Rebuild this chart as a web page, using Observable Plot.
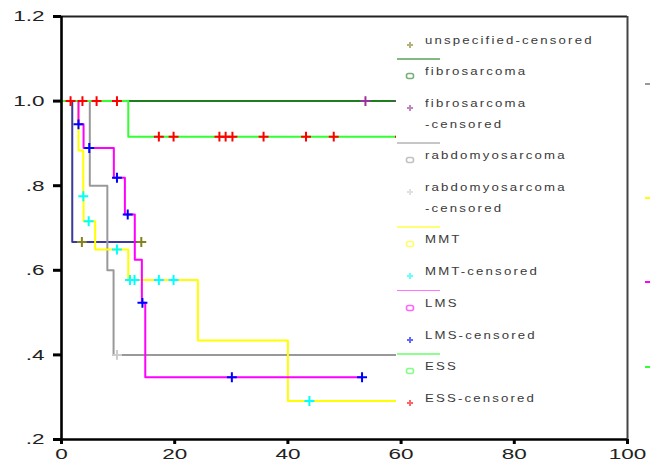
<!DOCTYPE html>
<html><head><meta charset="utf-8">
<script src="https://cdn.jsdelivr.net/npm/d3@7"></script>
<script src="https://cdn.jsdelivr.net/npm/@observablehq/plot@0.6"></script>
<style>
body{margin:0;background:#fff;}
#wrap{position:relative;width:655px;height:461px;overflow:hidden;font-family:"Liberation Sans",Arial,sans-serif;}
#legend{position:absolute;left:396px;top:18px;width:229px;height:419px;background:#fff;}
.lg-text{position:absolute;left:29px;font-size:11px;letter-spacing:1.8px;color:#3a3a3a;line-height:11px;white-space:nowrap;transform:scaleX(1.2);transform-origin:0 50%;}
.lg-line{position:absolute;left:1px;width:43px;height:1.5px;opacity:0.55;}
.lg-mark{position:absolute;left:9px;width:10px;height:10px;opacity:0.6;}
.cut{position:absolute;left:645px;width:5px;height:2px;}
</style></head><body><div id="wrap"></div>
<script>
// ---- data ----
const groupNames = ["unspecified","fibrosarcoma","rabdomyosarcoma","MMT","LMS","ESS"];
const lineColors = ["#3a3a9a","#1e7d1e","#999999","#ffff00","#ff00ff","#33ff33"];
const censColors = ["#858020","#993399","#cccccc","#00ffff","#0000ff","#ff0000"];

const unspecifiedTime = [0, 1.9, 14.2];
const unspecifiedSurv = [1, 0.667, 0.667];
const unspecifiedCensTime = [3.6, 14.1];
const unspecifiedCensSurv = [0.667, 0.667];

const fibroTime = [0, 61];
const fibroSurv = [1, 1];
const fibroCensTime = [53.7, 59.8];
const fibroCensSurv = [1, 1];

const rabdoTime = [0, 5.0, 8.1, 9.2, 61];
const rabdoSurv = [1, 0.8, 0.6, 0.4, 0.4];
const rabdoCensTime = [9.8];
const rabdoCensSurv = [0.4];

const mmtTime = [0, 3.0, 3.85, 3.9, 5.95, 11.8, 24.1, 40.0, 61];
const mmtSurv = [1, 0.883, 0.775, 0.716, 0.649, 0.577, 0.434, 0.291, 0.291];
const mmtCensTime = [3.85, 4.8, 9.8, 12.1, 12.9, 17.2, 19.8, 43.8];
const mmtCensSurv = [0.775, 0.716, 0.649, 0.577, 0.577, 0.577, 0.577, 0.291];

const lmsTime = [0, 3.0, 3.9, 9.25, 11.2, 12.95, 14.2, 14.8, 53.1];
const lmsSurv = [1, 0.945, 0.889, 0.819, 0.732, 0.625, 0.523, 0.347, 0.347];
const lmsCensTime = [3.0, 4.9, 9.8, 11.7, 14.3, 30.1, 53.1];
const lmsCensSurv = [0.945, 0.889, 0.819, 0.732, 0.523, 0.347, 0.347];

const essTime = [0, 11.8, 61];
const essSurv = [1, 0.916, 0.916];
const essCensTime = [1.6, 3.7, 6.2, 9.8, 17.2, 19.8, 27.9, 29.0, 30.2, 35.7, 43.2, 48.1, 59.8];
const essCensSurv = [1, 1, 1, 1, 0.916, 0.916, 0.916, 0.916, 0.916, 0.916, 0.916, 0.916, 0.916];

const xTicks = [0, 20, 40, 60, 80, 100];
const yTicks = [1.2, 1.0, 0.8, 0.6, 0.4, 0.2];
const yTickLabels = ["1.2", "1.0", ".8", ".6", ".4", ".2"];
const xDomain = [0, 100];
const yDomain = [0.2, 1.2];

const legendLabels = [
  "unspecified-censored",
  "fibrosarcoma", "fibrosarcoma\n-censored",
  "rabdomyosarcoma", "rabdomyosarcoma\n-censored",
  "MMT", "MMT-censored",
  "LMS", "LMS-censored",
  "ESS", "ESS-censored"
];

// ---- build ----
const rows = (T, S) => T.map((t, i) => ({t, s: S[i]}));
const curves = [
  [unspecifiedTime, unspecifiedSurv, unspecifiedCensTime, unspecifiedCensSurv],
  [fibroTime, fibroSurv, fibroCensTime, fibroCensSurv],
  [rabdoTime, rabdoSurv, rabdoCensTime, rabdoCensSurv],
  [mmtTime, mmtSurv, mmtCensTime, mmtCensSurv],
  [lmsTime, lmsSurv, lmsCensTime, lmsCensSurv],
  [essTime, essSurv, essCensTime, essCensSurv]
];

const marks = [];
curves.forEach((c, g) => {
  marks.push(Plot.line(rows(c[0], c[1]), {x: "t", y: "s", curve: "step-after", stroke: lineColors[g], strokeWidth: 2}));
});
curves.forEach((c, g) => {
  marks.push(Plot.dot(rows(c[2], c[3]), {x: "t", y: "s", symbol: "plus", r: 3.3, stroke: censColors[g], fill: "none", strokeWidth: 2}));
});
marks.push(
  Plot.ruleY([yDomain[1]], {stroke: "#222", strokeWidth: 2}),
  Plot.ruleX([xDomain[1]], {stroke: "#444", strokeWidth: 2}),
  Plot.ruleX([xDomain[0]], {stroke: "#000", strokeWidth: 2.6}),
  Plot.ruleY([yDomain[0]], {stroke: "#000", strokeWidth: 2.4}),
  Plot.axisY({ticks: yTicks, tickFormat: d => yTickLabels[yTicks.findIndex(v => Math.abs(v - d) < 1e-9)], tickSize: 8, tickPadding: 9, strokeWidth: 3, stroke: "#000", color: "#222", fontSize: 15, label: null}),
  Plot.axisX({ticks: xTicks, tickFormat: d => String(d), tickSize: 5, tickPadding: 4, strokeWidth: 3, stroke: "#000", color: "#222", fontSize: 15, label: null})
);

const chart = Plot.plot({
  width: 655, height: 461,
  marginLeft: 61, marginRight: 28, marginTop: 16, marginBottom: 22,
  x: {domain: xDomain},
  y: {domain: yDomain},
  style: {fontFamily: "Liberation Sans, Arial, sans-serif", background: "#fff", color: "#000"},
  marks
});

const wrap = document.getElementById("wrap");
wrap.appendChild(chart);

// widen tick labels horizontally around their anchor, like the reference
function stretch(root, sel, k) {
  root.querySelectorAll(sel).forEach(t => {
    const b = t.getBBox();
    const anchor = t.getAttribute("text-anchor") || getComputedStyle(t).textAnchor || t.parentNode.getAttribute("text-anchor");
    const ax = anchor === "end" ? b.x + b.width : anchor === "start" ? b.x : b.x + b.width / 2;
    const tr = t.getAttribute("transform") || "";
    t.setAttribute("transform", `${tr} translate(${ax},0) scale(${k},1) translate(${-ax},0)`);
  });
}
stretch(chart, 'g[aria-label="y-axis tick label"] text', 1.5);
stretch(chart, 'g[aria-label="x-axis tick label"] text', 1.5);

// ---- legend overlay ----
const legend = document.createElement("div");
legend.id = "legend";
wrap.appendChild(legend);
const top0 = 18;
function addText(label, yc) {
  label.split("\n").forEach((part, j) => {
    const d = document.createElement("div");
    d.className = "lg-text";
    d.textContent = part;
    d.style.top = (yc - top0 - 6 + j * 20.5) + "px";
    legend.appendChild(d);
  });
}
function addMark(kind, color, yc) {
  const d = document.createElement("div");
  d.className = "lg-mark";
  d.style.top = (yc - top0 - 5) + "px";
  d.innerHTML = kind === "event"
    ? `<svg width="10" height="10"><rect x="1.5" y="2.5" width="7" height="5" rx="2" fill="none" stroke="${color}" stroke-width="1.6"/></svg>`
    : `<svg width="10" height="10"><path d="M2,5H8M5,2V8" stroke="${color}" stroke-width="2"/></svg>`;
  legend.appendChild(d);
}
function addLine(color, yc) {
  const d = document.createElement("div");
  d.className = "lg-line";
  d.style.top = (yc - top0) + "px";
  d.style.background = color;
  legend.appendChild(d);
}
let y = 40.7;
let li = 0;
addMark("cens", censColors[0], y); addText(legendLabels[li++], y);
let lastLines = 1;
for (let g = 1; g < groupNames.length; g++) {
  const ly = y + (lastLines - 1) * 20.5 + 17.5;
  addLine(lineColors[g], ly);
  const ey = ly + 14;
  addMark("event", lineColors[g], ey); addText(legendLabels[li++], ey);
  const cy = ey + 32;
  const lab = legendLabels[li++];
  addMark("cens", censColors[g], cy); addText(lab, cy);
  y = cy; lastLines = lab.split("\n").length;
}
// clipped entries of a further legend column beyond the frame
[["#999999", 84], ["#ffff00", 198], ["#ff00ff", 282], ["#33ff33", 367]].forEach(([c, yy]) => {
  const d = document.createElement("div");
  d.className = "cut"; d.style.top = (yy - 1) + "px"; d.style.background = c;
  wrap.appendChild(d);
});
</script></body></html>
